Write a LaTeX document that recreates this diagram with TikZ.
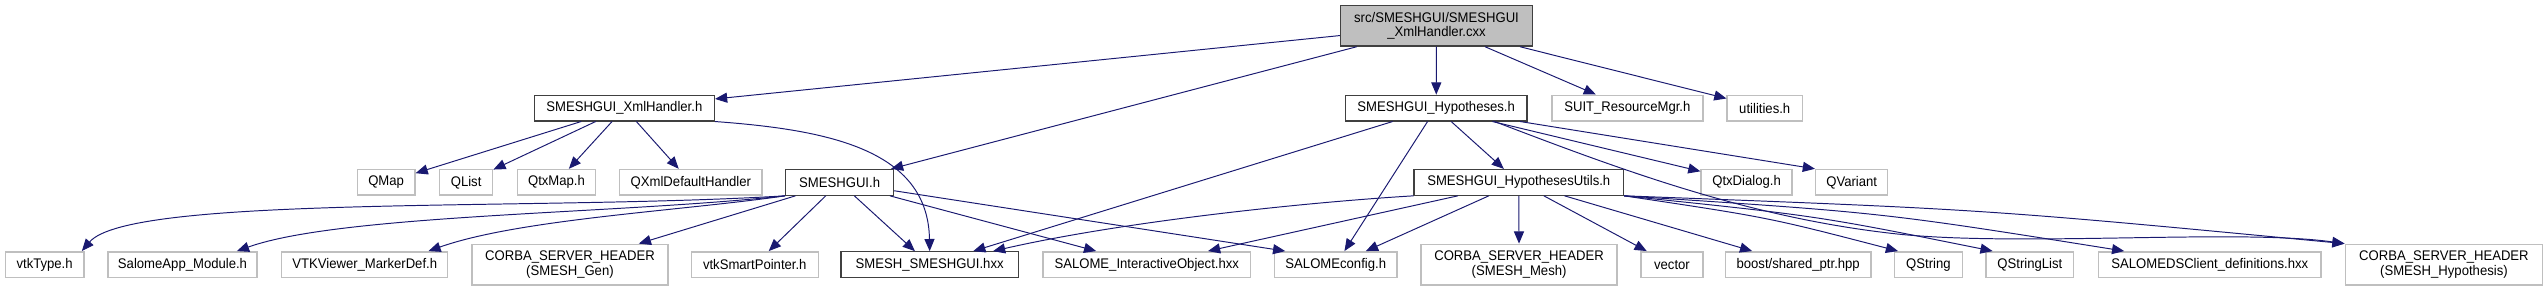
\documentclass[tikz,border=0pt]{standalone}
\usepackage{fontspec}
\setmainfont[FakeStretch=0.94]{Liberation Sans}
\usetikzlibrary{arrows.meta}
\definecolor{edgec}{HTML}{191970}
\definecolor{boxg}{HTML}{BFBFBF}
\definecolor{boxd}{HTML}{404040}
\tikzset{
  file/.style={draw=boxg, line width=0.9pt, fill=white, minimum height=15.8pt,
    inner xsep=5pt, inner ysep=0pt, text=black,
    font=\fontsize{8.6}{9}\selectfont},
  dfile/.style={file, draw=boxd, line width=0.8pt},
  twol/.style={align=center, minimum height=25pt},
  edge/.style={draw=edgec, line width=0.6pt, -{Triangle[length=7.5pt,width=6.2pt]}},
}
\begin{document}
\begin{tikzpicture}[x=1pt,y=-1pt]
\useasboundingbox (0,0) rectangle (1568,179);
% top
\node[dfile, fill=boxg, twol, minimum width=118.4pt] (src) at (885.4,15.9) {src/SMESHGUI/SMESHGUI\\\_XmlHandler.cxx};
% row 2
\node[dfile, minimum width=111pt] (xml) at (384.8,66.6) {SMESHGUI\_XmlHandler.h};
\node[dfile, minimum width=112pt] (hyp) at (885.2,66.6) {SMESHGUI\_Hypotheses.h};
\node[file, minimum width=93pt] (suit) at (1003,66.6) {SUIT\_ResourceMgr.h};
\node[file, minimum width=46.3pt] (util) at (1087.7,66.6) {utilities.h};
% row 3
\node[file, minimum width=35.4pt] (qmap) at (238,112.4) {QMap};
\node[file, minimum width=32.7pt] (qlist) at (287.3,112.4) {QList};
\node[file, minimum width=48pt] (qtxmap) at (343,112.4) {QtxMap.h};
\node[file, minimum width=87.7pt] (qxml) at (425.8,112.4) {QXmlDefaultHandler};
\node[dfile, minimum width=66.4pt] (smeshgui) at (517.5,112.4) {SMESHGUI.h};
\node[dfile, minimum width=129pt] (hutils) at (936.1,112.4) {SMESHGUI\_HypothesesUtils.h};
\node[file, minimum width=56pt] (qtxdialog) at (1076.5,112.4) {QtxDialog.h};
\node[file, minimum width=44.4pt] (qvariant) at (1141.3,112.4) {QVariant};
% row 4
\node[file, minimum width=48.4pt] (vtktype) at (27.5,163.1) {vtkType.h};
\node[file, minimum width=91.7pt] (salomeapp) at (112.5,163.1) {SalomeApp\_Module.h};
\node[file, minimum width=102.3pt] (vtkviewer) at (224.8,163.1) {VTKViewer\_MarkerDef.h};
\node[file, twol, minimum width=120.7pt] (corbagen) at (351.3,163.1) {CORBA\_SERVER\_HEADER\\(SMESH\_Gen)};
\node[file, minimum width=78.3pt] (vtksmart) at (465.2,163.1) {vtkSmartPointer.h};
\node[dfile, minimum width=109.3pt] (smeshhxx) at (573,163.1) {SMESH\_SMESHGUI.hxx};
\node[file, minimum width=127.7pt] (salomeio) at (706.8,163.1) {SALOME\_InteractiveObject.hxx};
\node[file, minimum width=75.3pt] (salomeconfig) at (823.3,163.1) {SALOMEconfig.h};
\node[file, twol, minimum width=120.7pt] (corbamesh) at (936.3,163.1) {CORBA\_SERVER\_HEADER\\(SMESH\_Mesh)};
\node[file, minimum width=38pt] (vector) at (1030.5,163.1) {vector};
\node[file, minimum width=89.6pt] (boost) at (1108.3,163.1) {boost/shared\_ptr.hpp};
\node[file, minimum width=41.7pt] (qstring) at (1188.6,163.1) {QString};
\node[file, minimum width=54pt] (qstringlist) at (1251.1,163.1) {QStringList};
\node[file, minimum width=137pt] (salomeds) at (1362,163.1) {SALOMEDSClient\_definitions.hxx};
\node[file, twol, minimum width=121.6pt] (corbahyp) at (1506.3,163.1) {CORBA\_SERVER\_HEADER\\(SMESH\_Hypothesis)};
% edges from src
\draw[edge] (src) -- (xml);
\draw[edge] (src) -- (smeshgui);
\draw[edge] (src) -- (hyp);
\draw[edge] (src) -- (suit);
\draw[edge] (src) -- (util);
% edges from xml
\draw[edge] (xml) -- (qmap);
\draw[edge] (xml) -- (qlist);
\draw[edge] (xml) -- (qtxmap);
\draw[edge] (xml) -- (qxml);
\draw[edge] (xml.south east) .. controls (510,80) and (572,92) .. (smeshhxx.north);
% edges from smeshgui
\draw[edge] (smeshgui.south west) .. controls (330,130) and (80,120) .. (vtktype.20);
\draw[edge] (smeshgui.south west) .. controls (380,132) and (210,132) .. (salomeapp.14);
\draw[edge] (smeshgui.south west) .. controls (420,130) and (320,135) .. (vtkviewer.12);
\draw[edge] (smeshgui) -- (corbagen);
\draw[edge] (smeshgui) -- (vtksmart);
\draw[edge] (smeshgui) -- (smeshhxx);
\draw[edge] (smeshgui) -- (salomeio);
\draw[edge] (smeshgui) -- (salomeconfig.165);
% edges from hyp
\draw[edge] (hyp) -- (smeshhxx);
\draw[edge] (hyp) -- (salomeconfig);
\draw[edge] (hyp) -- (hutils);
\draw[edge] (hyp) -- (qtxdialog);
\draw[edge] (hyp) -- (qvariant.north west);
\draw[edge] (hyp.-13) .. controls (1000,105) and (1080,135) .. (1172,144.5)
  .. controls (1250,152) and (1380,141) .. (corbahyp.north west);
% edges from hutils
\draw[edge] (hutils.south west) .. controls (800,125) and (690,137) .. (smeshhxx.12);
\draw[edge] (hutils) -- (salomeio);
\draw[edge] (hutils) -- (salomeconfig);
\draw[edge] (hutils) -- (corbamesh);
\draw[edge] (hutils) -- (vector);
\draw[edge] (hutils) -- (boost);
\draw[edge] (hutils.south east) .. controls (1090,134) .. (qstring.156);
\draw[edge] (hutils.south east) .. controls (1120,133) .. (qstringlist.160);
\draw[edge] (hutils.south east) .. controls (1160,131) .. (salomeds.171);
\draw[edge] (hutils.south east) .. controls (1223,129) .. (corbahyp.north west);
\end{tikzpicture}
\end{document}
